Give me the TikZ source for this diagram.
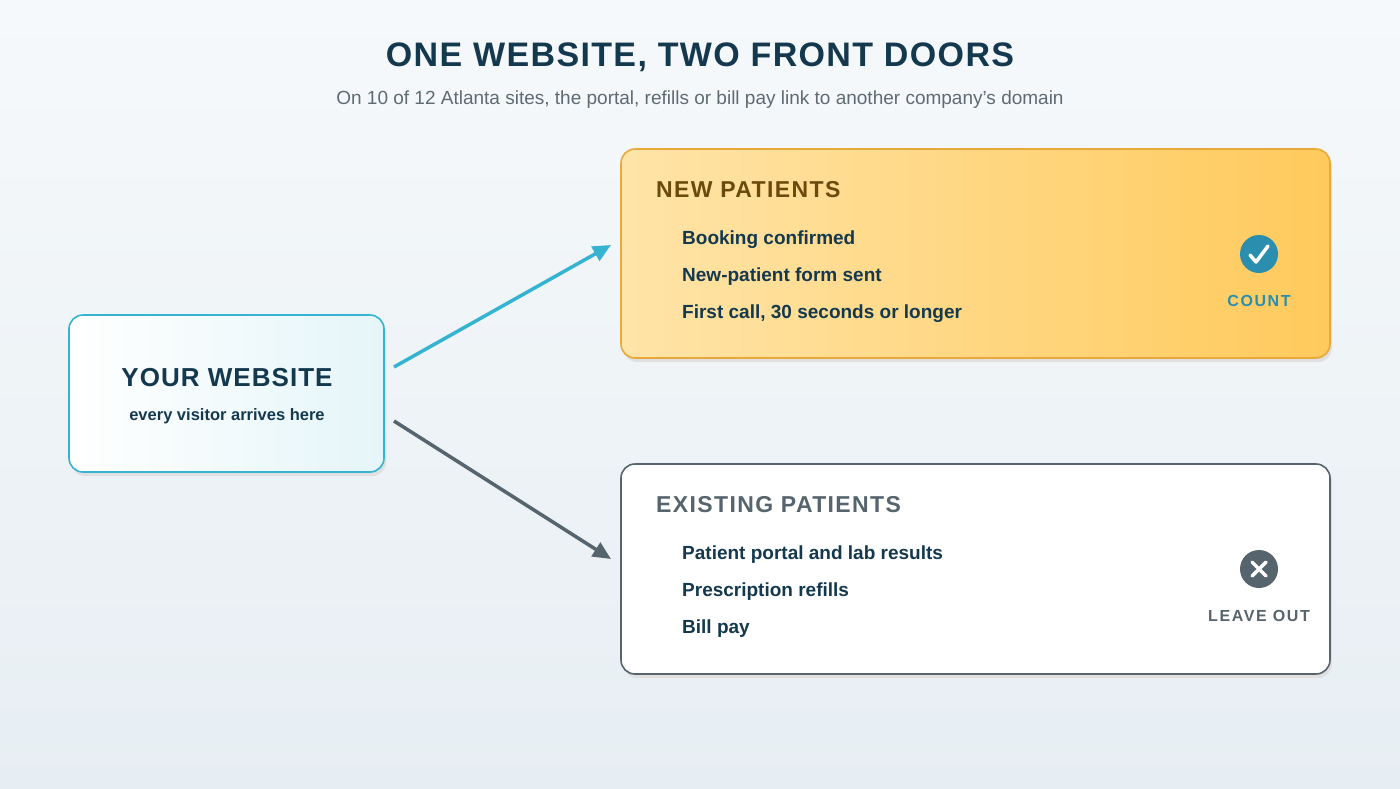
\documentclass[tikz,border=0pt]{standalone}
\usepackage{fontspec}
\setmainfont{Liberation Sans}
\usetikzlibrary{positioning,arrows.meta}
\definecolor{ink}{HTML}{14394F}
\definecolor{muted}{HTML}{5F6B73}
\definecolor{teal}{HTML}{35B3D0}
\definecolor{tealdark}{HTML}{2A8FAE}
\definecolor{slate}{HTML}{56646D}
\definecolor{amber}{HTML}{E9A93A}
\definecolor{brownish}{HTML}{6B4A0E}
\definecolor{bgtop}{HTML}{F6F9FB}
\definecolor{bgbot}{HTML}{E7EEF3}
\definecolor{peach}{HTML}{FFE4A8}
\definecolor{gold}{HTML}{FFCA5C}
\tikzset{
  box/.style={rounded corners=14pt, line width=1.6pt},
  item/.style={anchor=west, inner sep=0pt, font=\bfseries\fontsize{19}{22}\selectfont, text=ink},
  head/.style={anchor=west, inner sep=0pt, font=\bfseries\fontsize{23}{26}\selectfont\addfontfeatures{LetterSpace=6}},
  tag/.style={font=\bfseries\fontsize{16}{18}\selectfont\addfontfeatures{LetterSpace=10}},
  flow/.style={line width=3.5pt, -{Triangle[length=18pt,width=16pt]}}
}
\begin{document}
\begin{tikzpicture}[x=1pt,y=-1pt]
  \shade[top color=bgtop, bottom color=bgbot] (0,0) rectangle (1400,788);
  \useasboundingbox (0,0) rectangle (1400,788);
  % title
  \node[font=\bfseries\fontsize{34}{38}\selectfont\addfontfeatures{LetterSpace=4}, text=ink] (title) at (700,57) {ONE WEBSITE, TWO FRONT DOORS};
  \node[font=\fontsize{19}{22}\selectfont, text=muted] (sub) at (700,100) {On 10 of 12 Atlanta sites, the portal, refills or bill pay link to another company's domain};
  % left box
  \fill[black!12, rounded corners=14pt] (71,319) rectangle (386,476);
  \shade[box, left color=white, right color=teal!13, draw=teal] (69,315) rectangle (384,472);
  \node[font=\bfseries\fontsize{26}{30}\selectfont\addfontfeatures{LetterSpace=4}, text=ink] (site) at (227,378) {YOUR WEBSITE};
  \node[font=\bfseries\fontsize{16.5}{19}\selectfont, text=ink] (siteSub) at (227,416) {every visitor arrives here};
  % new patients
  \fill[black!12, rounded corners=14pt] (623,153) rectangle (1332,362);
  \shade[box, left color=peach, right color=gold, draw=amber] (621,149) rectangle (1330,358);
  \node[head, text=brownish] (newHead) at (656,190) {NEW PATIENTS};
  \node[item] (n1) at (682,240) {Booking confirmed};
  \node[item] (n2) at (682,277) {New-patient form sent};
  \node[item] (n3) at (682,314) {First call, 30 seconds or longer};
  \node[circle, fill=tealdark, minimum size=38pt, inner sep=0pt] (check) at (1259,254) {};
  \draw[white, line width=3.5pt, line cap=round, line join=round] (1250,255) -- (1256,262) -- (1268,246);
  \node[tag, text=tealdark] (count) at (1259,301) {COUNT};
  % existing patients
  \fill[black!12, rounded corners=14pt] (623,468) rectangle (1332,678);
  \draw[box, fill=white, draw=slate] (621,464) rectangle (1330,674);
  \node[head, text=slate] (oldHead) at (656,505) {EXISTING PATIENTS};
  \node[item] (e1) at (682,555) {Patient portal and lab results};
  \node[item] (e2) at (682,592) {Prescription refills};
  \node[item] (e3) at (682,629) {Bill pay};
  \node[circle, fill=slate, minimum size=38pt, inner sep=0pt] (cross) at (1259,569) {};
  \draw[white, line width=3.5pt, line cap=round] (1252,562) -- (1266,576) (1266,562) -- (1252,576);
  \node[tag, text=slate] (leave) at (1259,616) {LEAVE OUT};
  % arrows
  \coordinate (outA) at (394,367);
  \coordinate (inA) at (611,245);
  \coordinate (outB) at (394,421);
  \coordinate (inB) at (611,559);
  \draw[flow, teal] (outA) -- (inA);
  \draw[flow, slate] (outB) -- (inB);
\end{tikzpicture}
\end{document}
